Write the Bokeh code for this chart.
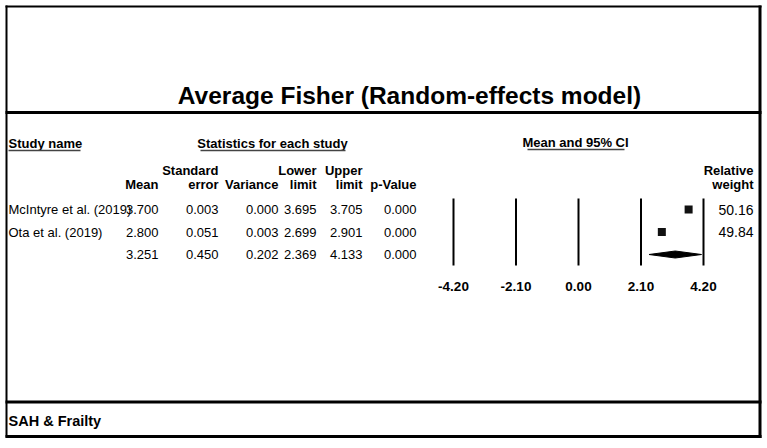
from bokeh.plotting import figure
from bokeh.models import Range1d
from bokeh.core.properties import value
from bokeh.embed import file_html
from bokeh.resources import INLINE

# ---------------- data ----------------
title = "Average Fisher (Random-effects model)"
footer = "SAH & Frailty"
studies = ["McIntyre et al. (2019)", "Ota et al. (2019)", ""]
means = [3.700, 2.800, 3.251]
std_err = [0.003, 0.051, 0.450]
variances = [0.000, 0.003, 0.202]
lower = [3.695, 2.699, 2.369]
upper = [3.705, 2.901, 4.133]
p_values = [0.000, 0.000, 0.000]
rel_weight = [50.16, 49.84]
ticks = [-4.20, -2.10, 0.00, 2.10, 4.20]

# ---------------- layout ----------------
OX, OY = 0, 0            # page position of figure
W, H = 762, 440          # figure size
ZERO_PX = 578.0          # page x of effect 0
PX_PER_UNIT = 62.5 / 2.1 # pixels per effect unit

def X(px):
    return (px - ZERO_PX) / PX_PER_UNIT

def Y(py):
    return py - OY

FONT = value("Liberation Sans")

p = figure(width=W, height=H, output_backend="svg", toolbar_location=None,
           x_range=Range1d(X(OX), X(OX + W)), y_range=Range1d(H, 0),
           min_border=0, outline_line_color=None)
p.axis.visible = False
p.grid.visible = False
p.background_fill_color = "white"
p.border_fill_color = "white"

def txt(x, y, s, size="13px", align="left", bold=False, color="black"):
    p.text(x=[X(x)], y=[Y(y)], text=[s], text_font=FONT, text_font_size=size,
           text_align=align, text_baseline="middle", text_color=color,
           text_font_style="bold" if bold else "normal")

def hline(x0, x1, y, w=2, color="black"):
    p.segment(x0=[X(x0)], y0=[Y(y)], x1=[X(x1)], y1=[Y(y)], line_color=color, line_width=w)

def vline(x, y0, y1, w=2, color="black"):
    p.segment(x0=[X(x)], y0=[Y(y0)], x1=[X(x)], y1=[Y(y1)], line_color=color, line_width=w)

# frame of the chart
vline(6, 5, 437, w=2)
hline(5, 761, 6, w=2)
vline(759.5, 5, 437.5, w=3)
hline(5, 761, 436, w=3)
hline(5, 761, 112, w=3)
hline(5, 761, 401.5, w=3)

# title / footer
txt(409, 95, title, size="24.5px", align="center", bold=True)
txt(8, 420, footer, size="14.5px", bold=True)

# group headers
txt(8, 143, "Study name", bold=True)
hline(8, 80, 150, w=1.5, color="#444444")
txt(272, 143, "Statistics for each study", align="center", bold=True)
hline(200, 345, 150, w=1.5, color="#444444")
txt(575, 142, "Mean and 95% CI", align="center", bold=True)
hline(527, 624, 149, w=1.5, color="#444444")

# column headers
col_right = [158, 218, 278, 316, 362, 416]
hdr_top = ["", "Standard", "", "Lower", "Upper", ""]
hdr_bot = ["Mean", "error", "Variance", "limit", "limit", "p-Value"]
for cx, t, b in zip(col_right, hdr_top, hdr_bot):
    if t:
        txt(cx, 170, t, align="right", bold=True)
    txt(cx, 184, b, align="right", bold=True)
txt(753, 170, "Relative", align="right", bold=True)
txt(753, 184, "weight", align="right", bold=True)

# table rows
row_y = [209, 231.5, 254]
for i, ry in enumerate(row_y):
    txt(8, ry, studies[i])
    cols = [means[i], std_err[i], variances[i], lower[i], upper[i], p_values[i]]
    for cx, v in zip(col_right, cols):
        txt(cx, ry, f"{v:.3f}", align="right")
for i, w in enumerate(rel_weight):
    txt(753, row_y[i], f"{w:.2f}", size="14px", align="right")

# forest plot reference lines and tick labels
p.segment(x0=ticks, y0=[Y(198)] * len(ticks), x1=ticks, y1=[Y(265)] * len(ticks),
          line_color="black", line_width=2)
p.text(x=ticks, y=[Y(286)] * len(ticks), text=[f"{t:.2f}" for t in ticks],
       text_font=FONT, text_font_size="13.5px", text_font_style="bold",
       text_align="center", text_baseline="middle")

# study CIs and squares
ys = [Y(v) for v in row_y[:2]]
p.segment(x0=lower[:2], y0=ys, x1=upper[:2], y1=ys, line_color="black", line_width=1)
p.scatter(x=means[:2], y=ys, marker="square", size=8, fill_color="#111111", line_color=None)

# summary diamond
dy = Y(row_y[2])
half_h = 3.5
p.patch(x=[lower[2], means[2], upper[2], means[2]],
        y=[dy, dy - half_h, dy, dy + half_h], fill_color="black", line_color="black")

open("out.html", "w").write(file_html(p, INLINE))
